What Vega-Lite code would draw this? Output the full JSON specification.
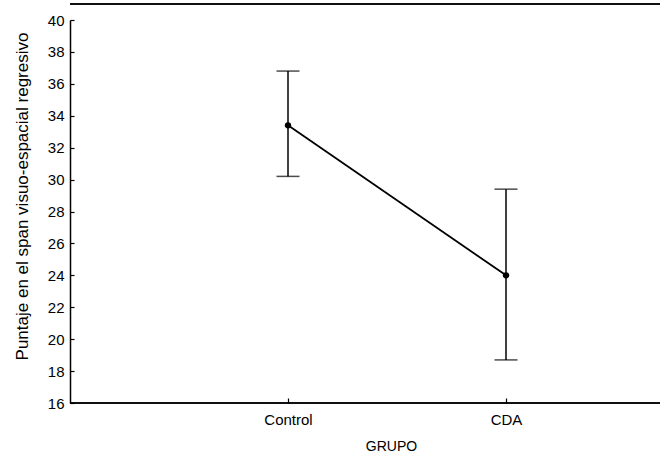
{
  "$schema": "https://vega.github.io/schema/vega-lite/v6.json",
  "width": 590,
  "height": 383,
  "autosize": {"type": "none"},
  "padding": {"left": 70, "top": 20, "right": 0, "bottom": 52},
  "background": "white",
  "config": {
    "view": {"stroke": null},
    "font": "Liberation Sans",
    "axis": {"grid": false, "domainColor": "black", "tickColor": "black", "labelColor": "black", "titleColor": "black", "labelFontSize": 15, "titleFontSize": 14, "titleFontWeight": "normal", "domainWidth": 1.5, "tickWidth": 1.2, "labelOverlap": false},
    "axisY": {"labelOverlap": false, "labelBound": false}
  },
  "data": {"values": [
    {"grupo": "Control", "media": 33.4, "inf": 30.2, "sup": 36.8},
    {"grupo": "CDA", "media": 24.0, "inf": 18.7, "sup": 29.4}
  ]},
  "layer": [
    {
      "mark": {"type": "rule", "color": "black", "strokeWidth": 1.5},
      "encoding": {
        "x": {"field": "grupo", "type": "nominal", "sort": ["Control", "CDA"],
          "scale": {"type": "point", "range": [218, 436], "padding": 0},
          "axis": {"title": "GRUPO", "domain": false, "labelAngle": 0, "tickSize": -5, "labelPadding": 14, "titlePadding": 12, "titleX": 321}},
        "y": {"field": "inf", "type": "quantitative", "scale": {"domain": [16, 40], "nice": false, "zero": false},
          "axis": {"title": "Puntaje en el span visuo-espacial regresivo", "titleFontSize": 17, "values": [16,18,20,22,24,26,28,30,32,34,36,38,40], "labelOverlap": false, "tickSize": -4, "labelPadding": 10, "titlePadding": 16, "titleY": 176}},
        "y2": {"field": "sup"}
      }
    },
    {
      "mark": {"type": "tick", "orient": "horizontal", "color": "black", "size": 23, "thickness": 1.5},
      "encoding": {
        "x": {"field": "grupo", "type": "nominal", "sort": ["Control", "CDA"]},
        "y": {"field": "inf", "type": "quantitative",
          "axis": {"title": "Puntaje en el span visuo-espacial regresivo", "titleFontSize": 17, "values": [16,18,20,22,24,26,28,30,32,34,36,38,40], "labelOverlap": false, "tickSize": -4, "labelPadding": 10, "titlePadding": 16, "titleY": 176}}
      }
    },
    {
      "mark": {"type": "tick", "orient": "horizontal", "color": "black", "size": 23, "thickness": 1.5},
      "encoding": {
        "x": {"field": "grupo", "type": "nominal", "sort": ["Control", "CDA"]},
        "y": {"field": "sup", "type": "quantitative",
          "axis": {"title": "Puntaje en el span visuo-espacial regresivo", "titleFontSize": 17, "values": [16,18,20,22,24,26,28,30,32,34,36,38,40], "labelOverlap": false, "tickSize": -4, "labelPadding": 10, "titlePadding": 16, "titleY": 176}}
      }
    },
    {
      "mark": {"type": "line", "color": "black", "strokeWidth": 1.8},
      "encoding": {
        "x": {"field": "grupo", "type": "nominal", "sort": ["Control", "CDA"]},
        "y": {"field": "media", "type": "quantitative",
          "axis": {"title": "Puntaje en el span visuo-espacial regresivo", "titleFontSize": 17, "values": [16,18,20,22,24,26,28,30,32,34,36,38,40], "labelOverlap": false, "tickSize": -4, "labelPadding": 10, "titlePadding": 16, "titleY": 176}}
      }
    },
    {
      "mark": {"type": "point", "filled": true, "color": "black", "size": 40, "opacity": 1},
      "encoding": {
        "x": {"field": "grupo", "type": "nominal", "sort": ["Control", "CDA"]},
        "y": {"field": "media", "type": "quantitative",
          "axis": {"title": "Puntaje en el span visuo-espacial regresivo", "titleFontSize": 17, "values": [16,18,20,22,24,26,28,30,32,34,36,38,40], "labelOverlap": false, "tickSize": -4, "labelPadding": 10, "titlePadding": 16, "titleY": 176}}
      }
    },
    {
      "mark": {"type": "rule", "color": "black", "strokeWidth": 1.5},
      "encoding": {"y": {"datum": 16,
          "axis": {"title": "Puntaje en el span visuo-espacial regresivo", "titleFontSize": 17, "values": [16,18,20,22,24,26,28,30,32,34,36,38,40], "labelOverlap": false, "tickSize": -4, "labelPadding": 10, "titlePadding": 16, "titleY": 176}}}
    },
    {
      "mark": {"type": "rule", "color": "black", "strokeWidth": 1.5},
      "encoding": {"y": {"datum": 41,
          "axis": {"title": "Puntaje en el span visuo-espacial regresivo", "titleFontSize": 17, "values": [16,18,20,22,24,26,28,30,32,34,36,38,40], "labelOverlap": false, "tickSize": -4, "labelPadding": 10, "titlePadding": 16, "titleY": 176}}}
    }
  ]
}
